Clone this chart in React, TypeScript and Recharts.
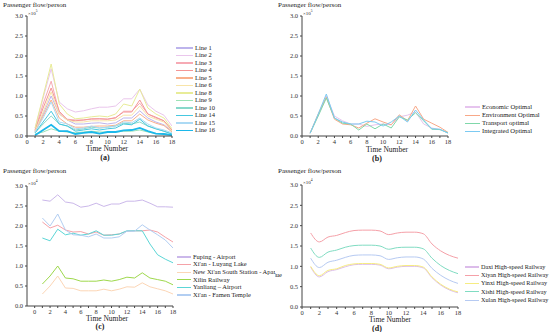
import { LineChart, Line, XAxis, YAxis } from 'recharts';

// ─── Data ────────────────────────────────────────────────
const TIME = [1, 2, 3, 4, 5, 6, 7, 8, 9, 10, 11, 12, 13, 14, 15, 16, 17, 18];
const X_TICKS = [0, 1, 2, 3, 4, 5, 6, 7, 8, 9, 10, 11, 12, 13, 14, 15, 16, 17, 18];
const Y_TICKS = [0, 0.5, 1, 1.5, 2, 2.5, 3];

// (a) metro lines, x10^5
const LINE_1 = [0.12, 0.55, 1.0, 0.55, 0.4, 0.3, 0.3, 0.32, 0.33, 0.3, 0.33, 0.45, 0.45, 0.63, 0.45, 0.35, 0.28, 0.12];
const LINE_2 = [0.19, 0.95, 1.68, 0.85, 0.68, 0.6, 0.63, 0.68, 0.72, 0.72, 0.75, 0.93, 0.93, 1.17, 0.78, 0.62, 0.52, 0.25];
const LINE_3 = [0.15, 0.8, 1.37, 0.6, 0.42, 0.4, 0.4, 0.42, 0.43, 0.42, 0.45, 0.62, 0.62, 0.82, 0.55, 0.45, 0.38, 0.15];
const LINE_4 = [0.14, 0.7, 1.2, 0.62, 0.4, 0.38, 0.4, 0.43, 0.43, 0.42, 0.46, 0.6, 0.6, 0.9, 0.55, 0.47, 0.38, 0.14];
const LINE_5 = [0.1, 0.5, 0.9, 0.45, 0.3, 0.22, 0.22, 0.24, 0.25, 0.25, 0.27, 0.38, 0.38, 0.55, 0.4, 0.32, 0.26, 0.1];
const LINE_6 = [0.12, 0.6, 1.1, 0.55, 0.4, 0.35, 0.35, 0.38, 0.38, 0.38, 0.4, 0.52, 0.52, 0.75, 0.5, 0.42, 0.35, 0.12];
const LINE_8 = [0.2, 1.0, 1.8, 0.8, 0.55, 0.43, 0.45, 0.48, 0.5, 0.48, 0.55, 0.8, 0.75, 1.17, 0.7, 0.55, 0.45, 0.18];
const LINE_9 = [0.05, 0.1, 0.18, 0.12, 0.1, 0.08, 0.1, 0.12, 0.1, 0.1, 0.1, 0.12, 0.12, 0.15, 0.1, 0.06, 0.05, 0.03];
const LINE_10 = [0.08, 0.3, 0.5, 0.3, 0.25, 0.15, 0.18, 0.22, 0.2, 0.22, 0.25, 0.32, 0.3, 0.35, 0.25, 0.18, 0.12, 0.05];
const LINE_14 = [0.08, 0.35, 0.62, 0.3, 0.25, 0.12, 0.15, 0.18, 0.15, 0.18, 0.2, 0.3, 0.28, 0.42, 0.25, 0.18, 0.12, 0.05];
const LINE_15 = [0.1, 0.45, 0.85, 0.35, 0.3, 0.18, 0.2, 0.25, 0.2, 0.22, 0.25, 0.35, 0.33, 0.45, 0.3, 0.2, 0.15, 0.08];
const LINE_16 = [0.02, 0.15, 0.28, 0.12, 0.12, 0.05, 0.08, 0.1, 0.06, 0.1, 0.1, 0.14, 0.15, 0.2, 0.12, 0.06, 0.05, 0.02];

// (b) optimisation schemes, x10^5
const ECONOMIC = [0.07, 0.52, 1.0, 0.5, 0.38, 0.3, 0.3, 0.24, 0.28, 0.3, 0.28, 0.48, 0.52, 0.6, 0.3, 0.2, 0.16, 0.08];
const ENVIRONMENT = [0.07, 0.55, 0.97, 0.42, 0.3, 0.28, 0.2, 0.32, 0.43, 0.35, 0.28, 0.53, 0.38, 0.75, 0.42, 0.32, 0.22, 0.09];
const TRANSPORT = [0.07, 0.5, 0.95, 0.45, 0.32, 0.3, 0.15, 0.3, 0.18, 0.3, 0.2, 0.48, 0.4, 0.58, 0.38, 0.17, 0.16, 0.08];
const INTEGRATED = [0.07, 0.55, 1.05, 0.45, 0.35, 0.3, 0.3, 0.37, 0.35, 0.25, 0.35, 0.5, 0.35, 0.65, 0.4, 0.18, 0.17, 0.07];

// (c) routes, x10^4
const FUPING = [2.65, 2.62, 2.78, 2.6, 2.57, 2.47, 2.5, 2.57, 2.49, 2.55, 2.55, 2.62, 2.62, 2.65, 2.57, 2.48, 2.48, 2.47];
const LUYANG = [2.1, 1.95, 2.02, 1.9, 1.85, 1.86, 1.8, 1.85, 1.77, 1.78, 1.8, 1.87, 1.88, 1.88, 1.9, 1.85, 1.72, 1.6];
const APANG = [0.3, 0.5, 0.75, 0.45, 0.44, 0.38, 0.38, 0.38, 0.42, 0.38, 0.42, 0.48, 0.47, 0.58, 0.48, 0.43, 0.38, 0.3];
const XILIN = [0.55, 0.75, 1.0, 0.7, 0.68, 0.62, 0.62, 0.62, 0.65, 0.62, 0.66, 0.72, 0.7, 0.83, 0.7, 0.66, 0.62, 0.53];
const YANLIANG = [1.7, 1.63, 1.92, 1.78, 1.82, 1.77, 1.8, 1.88, 1.77, 1.77, 1.8, 1.88, 1.88, 1.88, 1.55, 1.28, 1.17, 1.08];
const FAMEN = [2.2, 2.0, 2.3, 1.9, 1.78, 1.77, 1.73, 1.8, 1.7, 1.7, 1.73, 1.87, 1.87, 2.03, 1.9, 1.78, 1.65, 1.45];

// (d) high-speed railways, x10^4
const DAXI = [0.98, 0.74, 0.87, 0.92, 0.99, 1.04, 1.05, 1.05, 1.03, 0.94, 0.98, 1.0, 1.0, 0.96, 0.72, 0.54, 0.42, 0.35];
const XIYAN = [1.82, 1.6, 1.72, 1.76, 1.83, 1.88, 1.89, 1.89, 1.87, 1.78, 1.82, 1.84, 1.84, 1.8, 1.55, 1.38, 1.27, 1.2];
const YINXI = [1.0, 0.77, 0.9, 0.94, 1.02, 1.06, 1.07, 1.07, 1.05, 0.96, 1.0, 1.02, 1.02, 0.98, 0.74, 0.56, 0.44, 0.37];
const XISHI = [1.45, 1.22, 1.35, 1.4, 1.47, 1.51, 1.52, 1.52, 1.5, 1.42, 1.46, 1.47, 1.47, 1.43, 1.2, 1.02, 0.9, 0.82];
const XULAN = [1.2, 0.97, 1.1, 1.15, 1.22, 1.27, 1.28, 1.28, 1.26, 1.17, 1.21, 1.23, 1.23, 1.18, 0.95, 0.78, 0.66, 0.58];

interface Series {
  name: string;
  color: string;
  values: number[];
  width?: number;
}

const SERIES_A: Series[] = [
  { name: 'Line 1', color: '#bdb4ec', values: LINE_1 },
  { name: 'Line 2', color: '#eac6ec', values: LINE_2 },
  { name: 'Line 3', color: '#f6aab4', values: LINE_3 },
  { name: 'Line 4', color: '#f49696', values: LINE_4 },
  { name: 'Line 5', color: '#f9b08c', values: LINE_5 },
  { name: 'Line 6', color: '#f8e4a8', values: LINE_6 },
  { name: 'Line 8', color: '#e8ec98', values: LINE_8 },
  { name: 'Line 9', color: '#9ce2b6', values: LINE_9 },
  { name: 'Line 10', color: '#88d8ca', values: LINE_10 },
  { name: 'Line 14', color: '#46c8e0', values: LINE_14 },
  { name: 'Line 15', color: '#acdaf4', values: LINE_15 },
  { name: 'Line 16', color: '#1cb8ea', values: LINE_16, width: 1.8 },
];

const SERIES_B: Series[] = [
  { name: 'Economic Optimal', color: '#e6c4ee', values: ECONOMIC },
  { name: 'Environment Optimal', color: '#f8a888', values: ENVIRONMENT },
  { name: 'Transport optimal', color: '#80d8aa', values: TRANSPORT },
  { name: 'Integrated Optimal', color: '#7ccaf2', values: INTEGRATED },
];

const SERIES_C: Series[] = [
  { name: 'Fuping - Airport', color: '#cbb8ea', values: FUPING },
  { name: "Xi'an - Luyang Lake", color: '#f5a2a8', values: LUYANG },
  { name: "New Xi'an South Station - Apang Palace", color: '#fcd6b6', values: APANG },
  { name: 'Xilin Railway', color: '#9ed84c', values: XILIN },
  { name: 'Yanliang – Airport', color: '#5cd6d6', values: YANLIANG },
  { name: "Xi'an - Famen Temple", color: '#b2cef2', values: FAMEN },
];

const SERIES_D: Series[] = [
  { name: 'Daxi High-speed Railway', color: '#dcbcea', values: DAXI },
  { name: 'Xiyan High-speed Railway', color: '#f5a0a8', values: XIYAN },
  { name: 'Yinxi High-speed Railway', color: '#f6ec82', values: YINXI },
  { name: 'Xishi High-speed Railway', color: '#80dcc2', values: XISHI },
  { name: 'Xulan High-speed Railway', color: '#b6caf2', values: XULAN },
];

// ─── Panel ───────────────────────────────────────────────
const FONT = '"Liberation Serif", "DejaVu Serif", serif';
const tickStyle = { fontSize: 6.5, fill: '#333', fontFamily: FONT };

interface PanelProps {
  left: number;
  top: number;
  series: Series[];
  exp: number;
  xMin: number;
  plot: { left: number; right: number; top: number; bottom: number };
  curve: 'linear' | 'monotone';
  legend: { x: number; y: number; gap: number; lineW: number; fontSize: number };
  expPos: { x: number; y: number };
  timeX: number;
  timeY: number;
  tag: string;
  tagX: number;
  tagY: number;
  extra?: JSX.Element;
}

function Panel(p: PanelProps): JSX.Element {
  const rows = TIME.map((t, i) => {
    const row: Record<string, number> = { t };
    p.series.forEach((s, j) => {
      row['s' + j] = s.values[i];
    });
    return row;
  });

  return (
    <div
      style={{
        position: 'absolute',
        left: p.left,
        top: p.top,
        width: 275,
        height: 166,
        overflow: 'hidden',
        fontFamily: FONT,
        color: '#222',
        lineHeight: 1,
      }}
    >
      <LineChart
        width={275}
        height={166}
        data={rows}
        margin={{ top: p.plot.top, right: 275 - p.plot.right, bottom: 166 - p.plot.bottom - 10, left: 0 }}
      >
        <XAxis
          type="number"
          dataKey="t"
          domain={[p.xMin, 18]}
          ticks={X_TICKS}
          interval={0}
          tickFormatter={(v: number) => (v % 2 === 0 ? String(v) : '')}
          tick={tickStyle}
          tickSize={2}
          tickMargin={1}
          height={10}
          stroke="#444"
          allowDataOverflow
        />
        <YAxis
          type="number"
          domain={[0, 3]}
          ticks={Y_TICKS}
          interval={0}
          tickFormatter={(v: number) => v.toFixed(1)}
          tick={tickStyle}
          tickSize={2}
          tickMargin={2}
          width={p.plot.left}
          stroke="#444"
        />
        {p.series.map((s, j) => (
          <Line
            key={s.name}
            type={p.curve}
            dataKey={'s' + j}
            stroke={s.color}
            strokeWidth={s.width ?? 1}
            dot={false}
            isAnimationActive={false}
          />
        ))}
      </LineChart>

      <div style={{ position: 'absolute', left: 3, top: 1.5, fontSize: 7, whiteSpace: 'nowrap' }}>
        Passenger flow/person
      </div>
      <div style={{ position: 'absolute', left: p.expPos.x, top: p.expPos.y, fontSize: 5, whiteSpace: 'nowrap' }}>
        ×10<sup style={{ fontSize: 3.5 }}>{p.exp}</sup>
      </div>
      <div
        style={{
          position: 'absolute',
          left: p.timeX - 40,
          width: 80,
          top: p.timeY - 3.5,
          fontSize: 7.5,
          textAlign: 'center',
        }}
      >
        Time Number
      </div>
      <div
        style={{
          position: 'absolute',
          left: p.tagX - 20,
          width: 40,
          top: p.tagY - 3.5,
          fontSize: 8,
          fontWeight: 'bold',
          textAlign: 'center',
        }}
      >
        {p.tag}
      </div>

      {/* legend */}
      {p.series.map((s, j) => (
        <div
          key={s.name}
          style={{
            position: 'absolute',
            left: p.legend.x,
            top: p.legend.y + j * p.legend.gap - 3.5,
            height: 7,
            display: 'flex',
            alignItems: 'center',
            whiteSpace: 'nowrap',
            fontSize: p.legend.fontSize,
          }}
        >
          <span
            style={{
              display: 'inline-block',
              width: p.legend.lineW,
              height: s.width ? 1.8 : 1.2,
              background: s.color,
              marginRight: 2,
            }}
          />
          <span>{s.name}</span>
        </div>
      ))}
      {p.extra}
    </div>
  );
}

export default function App(): JSX.Element {
  return (
    <div style={{ position: 'absolute', left: 0, top: 0, width: 550, height: 332, background: '#fff' }}>
      <Panel
        left={0}
        top={0}
        series={SERIES_A}
        exp={5}
        xMin={0}
        plot={{ left: 27, right: 172, top: 16, bottom: 136 }}
        curve="linear"
        legend={{ x: 176, y: 48, gap: 7.5, lineW: 17, fontSize: 6.5 }}
        expPos={{ x: 28, y: 10 }}
        timeX={107}
        timeY={148}
        tag="(a)"
        tagX={105}
        tagY={157}
      />
      <Panel
        left={275}
        top={0}
        series={SERIES_B}
        exp={5}
        xMin={0}
        plot={{ left: 27, right: 173, top: 16, bottom: 136 }}
        curve="linear"
        legend={{ x: 190, y: 107, gap: 8.2, lineW: 15, fontSize: 6.6 }}
        expPos={{ x: 28, y: 10 }}
        timeX={112}
        timeY={149}
        tag="(b)"
        tagX={102}
        tagY={158}
      />
      <Panel
        left={0}
        top={166}
        series={SERIES_C}
        exp={4}
        xMin={-1}
        plot={{ left: 27, right: 173, top: 20, bottom: 140 }}
        curve="linear"
        legend={{ x: 177, y: 91, gap: 7.6, lineW: 14, fontSize: 6.5 }}
        expPos={{ x: 28, y: 14 }}
        timeX={107}
        timeY={152}
        tag="(c)"
        tagX={100}
        tagY={160.5}
      />
      <Panel
        left={275}
        top={166}
        series={SERIES_D}
        exp={4}
        xMin={0}
        plot={{ left: 27, right: 183, top: 19, bottom: 141 }}
        curve="monotone"
        legend={{ x: 190, y: 101, gap: 8.3, lineW: 14, fontSize: 6.2 }}
        expPos={{ x: 28, y: 13 }}
        timeX={115}
        timeY={153.5}
        tag="(d)"
        tagX={102}
        tagY={162}
        extra={
          <div style={{ position: 'absolute', left: -20, width: 27, top: 106, fontSize: 6.5, textAlign: 'right' }}>
            Value
          </div>
        }
      />
    </div>
  );
}
